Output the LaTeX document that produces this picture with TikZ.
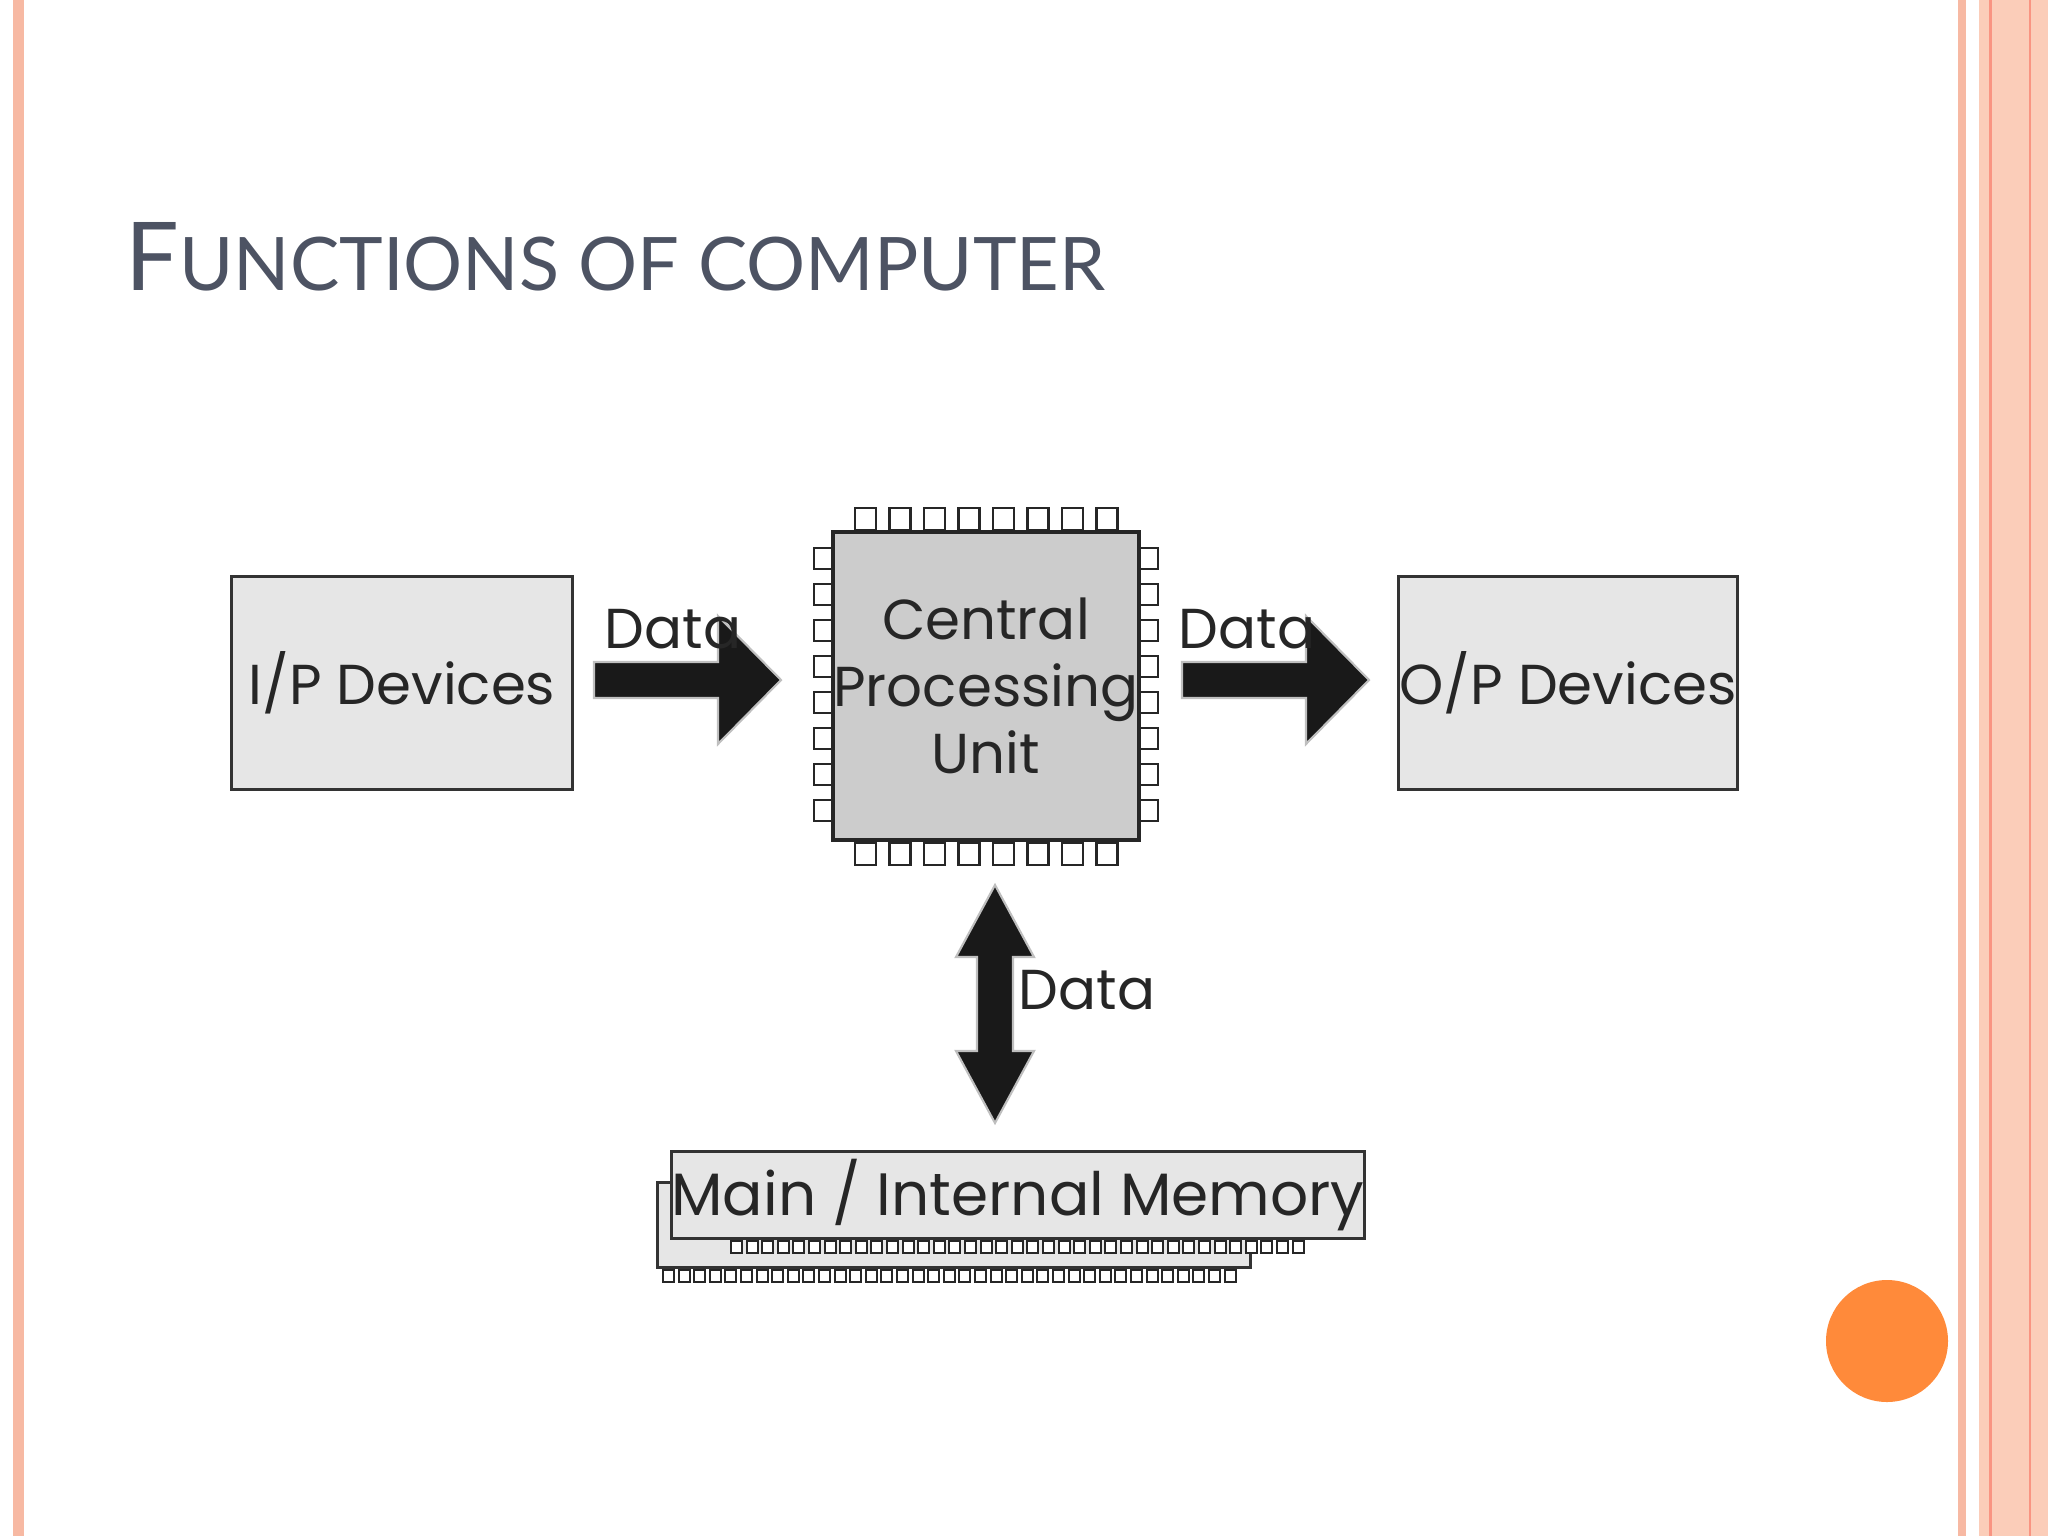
\documentclass[tikz,border=0pt]{standalone}
\usepackage{fontspec}
\setmainfont{Poppins}
\newfontfamily\titlefont{Lato}
\definecolor{titlegray}{HTML}{4D5363}
\definecolor{stripe}{HTML}{F7B9A3}
\definecolor{band}{HTML}{FBCDB9}
\definecolor{dot}{HTML}{FF8A3A}
\definecolor{boxfill}{HTML}{E6E6E6}
\definecolor{cpufill}{HTML}{CCCCCC}
\tikzset{
  box/.style={draw=black!80, line width=0.85pt, fill=boxfill},
  pin/.style={draw=black!85, line width=0.7pt, fill=white},
  lbl/.style={font=\fontsize{16}{19}\selectfont, text=black!85, inner sep=0pt},
  bigarrow/.style={fill=black!90, draw=black!25, line width=0.6pt},
}
\begin{document}
\begin{tikzpicture}[x=0.01cm,y=-0.01cm]
\useasboundingbox (0,0) rectangle (2048,1536);
% slide borders
\fill[stripe] (13,0) rectangle (24,1536);
\fill[stripe] (1958,0) rectangle (1966,1536);
\fill[band] (1979,0) rectangle (2048,1536);
\draw[stripe!80!red, line width=0.85pt] (1990,0) -- (1990,1536);
\draw[stripe!80!red, line width=0.6pt] (2030,0) -- (2030,1536);
\fill[dot] (1887,1341) circle (61);
% title
\node[anchor=base west, text=titlegray, inner sep=0pt] (title) at (125,290)
  {\titlefont\fontsize{27}{30}\selectfont F\fontsize{21}{24}\selectfont UNCTIONS OF COMPUTER};
% input / output boxes
\node[box, minimum width=3.4cm, minimum height=2.13cm, lbl] (ip) at (402,683) {I/P Devices};
\node[box, minimum width=3.39cm, minimum height=2.13cm, lbl] (op) at (1568,683) {O/P Devices};
% cpu pins
\foreach \i in {0,...,7}{
  \draw[pin] (855+\i*34.5,508) rectangle ++(21,22);
  \draw[pin] (855+\i*34.5,843) rectangle ++(21,22);
  \draw[pin] (814,548+\i*36) rectangle ++(22,21);
  \draw[pin] (1136,548+\i*36) rectangle ++(22,21);
}
\node[draw=black!85, line width=1.1pt, fill=cpufill, minimum width=2.96cm, minimum height=3.08cm,
  align=center, lbl] (cpu) at (986,686) {Central\\Processing\\Unit};
% arrows
\foreach \x in {594,1182}{
  \draw[bigarrow] (\x,662) -- ++(124,0) -- ++(0,-46) -- ++(63,64) -- ++(-63,64) -- ++(0,-46) -- ++(-124,0) -- cycle;
}
\node[lbl, anchor=base] (d1) at (673,648) {Data};
\node[lbl, anchor=base] (d2) at (1247,648) {Data};
\draw[bigarrow] (995,885) -- (1034,957) -- (1013,957) -- (1013,1051) -- (1034,1051) -- (995,1123)
  -- (956,1051) -- (977,1051) -- (977,957) -- (956,957) -- cycle;
\node[lbl, anchor=base west] (d3) at (1018,1009) {Data};
% memory modules
\draw[box] (657,1182) rectangle (1250,1267);
\foreach \i in {0,...,36}{
  \draw[pin, line width=0.55pt] (663+\i*15.6,1270) rectangle ++(11,12);
}
\node[box, minimum width=5.93cm, minimum height=0.86cm, lbl, font=\fontsize{17}{20}\selectfont] (mem) at (1018,1195) {Main / Internal Memory};
\foreach \i in {0,...,36}{
  \draw[pin, line width=0.55pt] (731+\i*15.6,1241) rectangle ++(11,12);
}
\end{tikzpicture}
\end{document}
